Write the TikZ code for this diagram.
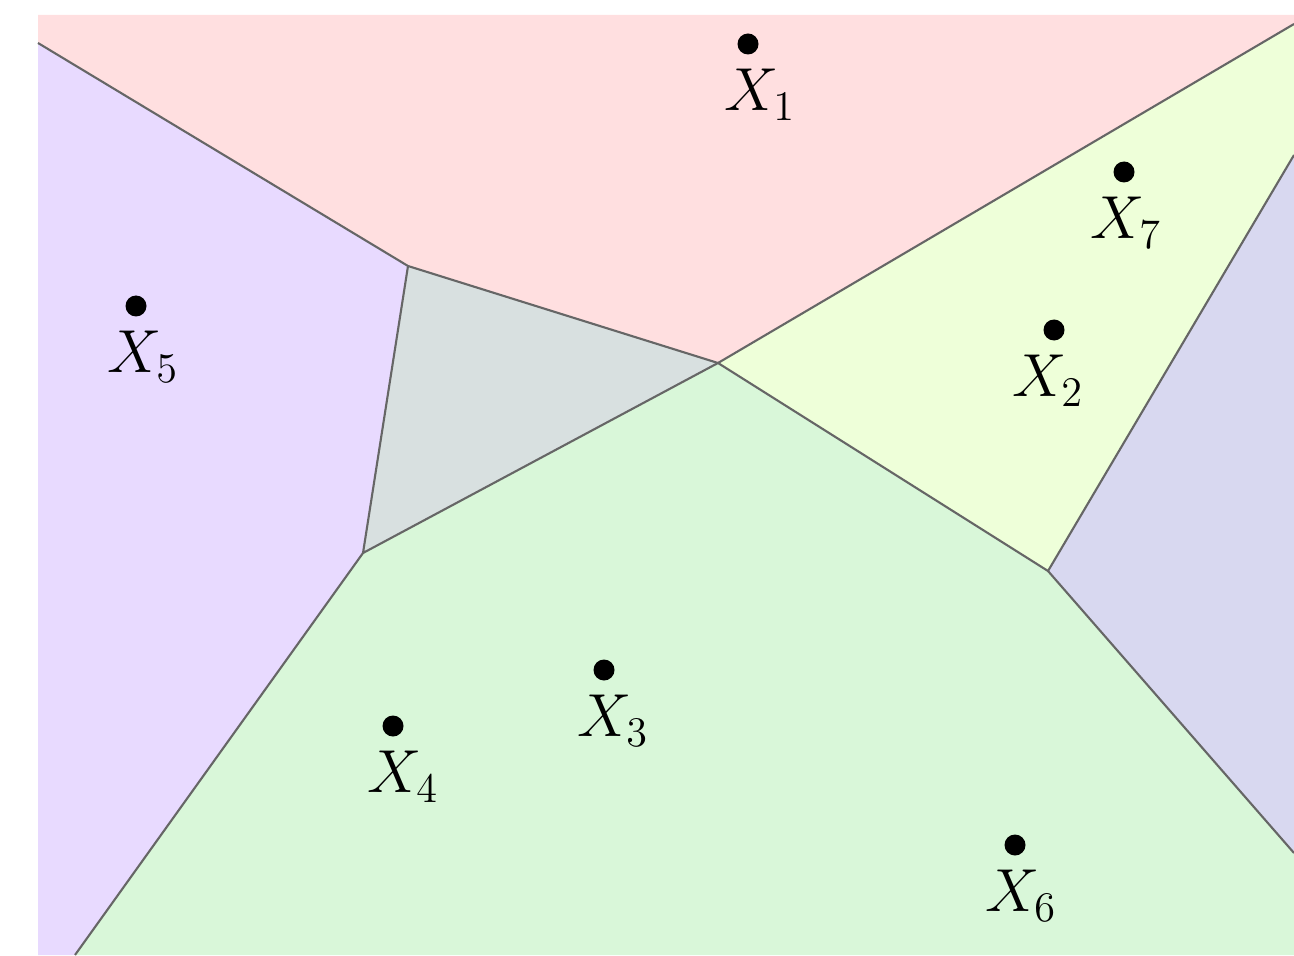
\documentclass[tikz,border=0pt]{standalone}
\usepackage{amsmath,amssymb}
\usepackage{tikz}
\usetikzlibrary{positioning,calc}
\usepackage{xcolor}
\definecolor{cellpink}{RGB}{255,223,224}
\definecolor{cellviolet}{RGB}{232,218,255}
\definecolor{cellgray}{RGB}{216,224,224}
\definecolor{cellgreen}{RGB}{217,247,217}
\definecolor{celllime}{RGB}{238,255,217}
\definecolor{cellblue}{RGB}{216,216,240}

\begin{document}
\begin{tikzpicture}[
    site/.style={circle, fill=black, inner sep=0pt, minimum size=0.21cm},
    sitelabel/.style={font=\LARGE, inner sep=1pt, yshift=-0.1cm},
    ridge/.style={draw=black!60, line width=0.6pt, line join=round}
]
    \useasboundingbox (0,0) rectangle (12.94,9.55);

    % Voronoi vertices
    \coordinate (tl) at (0.38,9.40);
    \coordinate (tr) at (12.94,9.40);
    \coordinate (bl) at (0.38,0);
    \coordinate (br) at (12.94,0);
    \coordinate (va) at (0.38,9.12);
    \coordinate (vb) at (4.08,6.89);
    \coordinate (vc) at (7.18,5.92);
    \coordinate (vd) at (3.63,4.02);
    \coordinate (ve) at (10.48,3.84);
    \coordinate (vf) at (12.94,9.31);
    \coordinate (vg) at (12.94,8.00);
    \coordinate (vh) at (12.94,1.02);
    \coordinate (vi) at (0.75,0);

    % cells
    \fill[cellpink] (tl) -- (va) -- (vb) -- (vc) -- (vf) -- (tr) -- cycle;
    \fill[cellviolet] (va) -- (vb) -- (vd) -- (vi) -- (bl) -- cycle;
    \fill[cellgray] (vb) -- (vc) -- (vd) -- cycle;
    \fill[cellgreen] (vd) -- (vc) -- (ve) -- (vh) -- (br) -- (vi) -- cycle;
    \fill[celllime] (vc) -- (vf) -- (vg) -- (ve) -- cycle;
    \fill[cellblue] (vg) -- (ve) -- (vh) -- cycle;

    % ridges
    \draw[ridge] (va) -- (vb) -- (vc) -- (vf);
    \draw[ridge] (vb) -- (vd) -- (vc) -- (ve) -- (vg);
    \draw[ridge] (vd) -- (vi);
    \draw[ridge] (ve) -- (vh);

    % sites
    \node[site, label={[sitelabel, xshift=0.12cm]below:$X_1$}] (x1) at (7.48,9.11) {};
    \node[site, label={[sitelabel, xshift=-0.06cm]below:$X_2$}] (x2) at (10.54,6.25) {};
    \node[site, label={[sitelabel, xshift=0.09cm]below:$X_3$}] (x3) at (6.04,2.85) {};
    \node[site, label={[sitelabel, xshift=0.1cm]below:$X_4$}] (x4) at (3.93,2.29) {};
    \node[site, label={[sitelabel, xshift=0.07cm]below:$X_5$}] (x5) at (1.36,6.49) {};
    \node[site, label={[sitelabel, xshift=0.06cm]below:$X_6$}] (x6) at (10.15,1.10) {};
    \node[site, label={[sitelabel, xshift=0.02cm]below:$X_7$}] (x7) at (11.24,7.83) {};
\end{tikzpicture}
\end{document}
